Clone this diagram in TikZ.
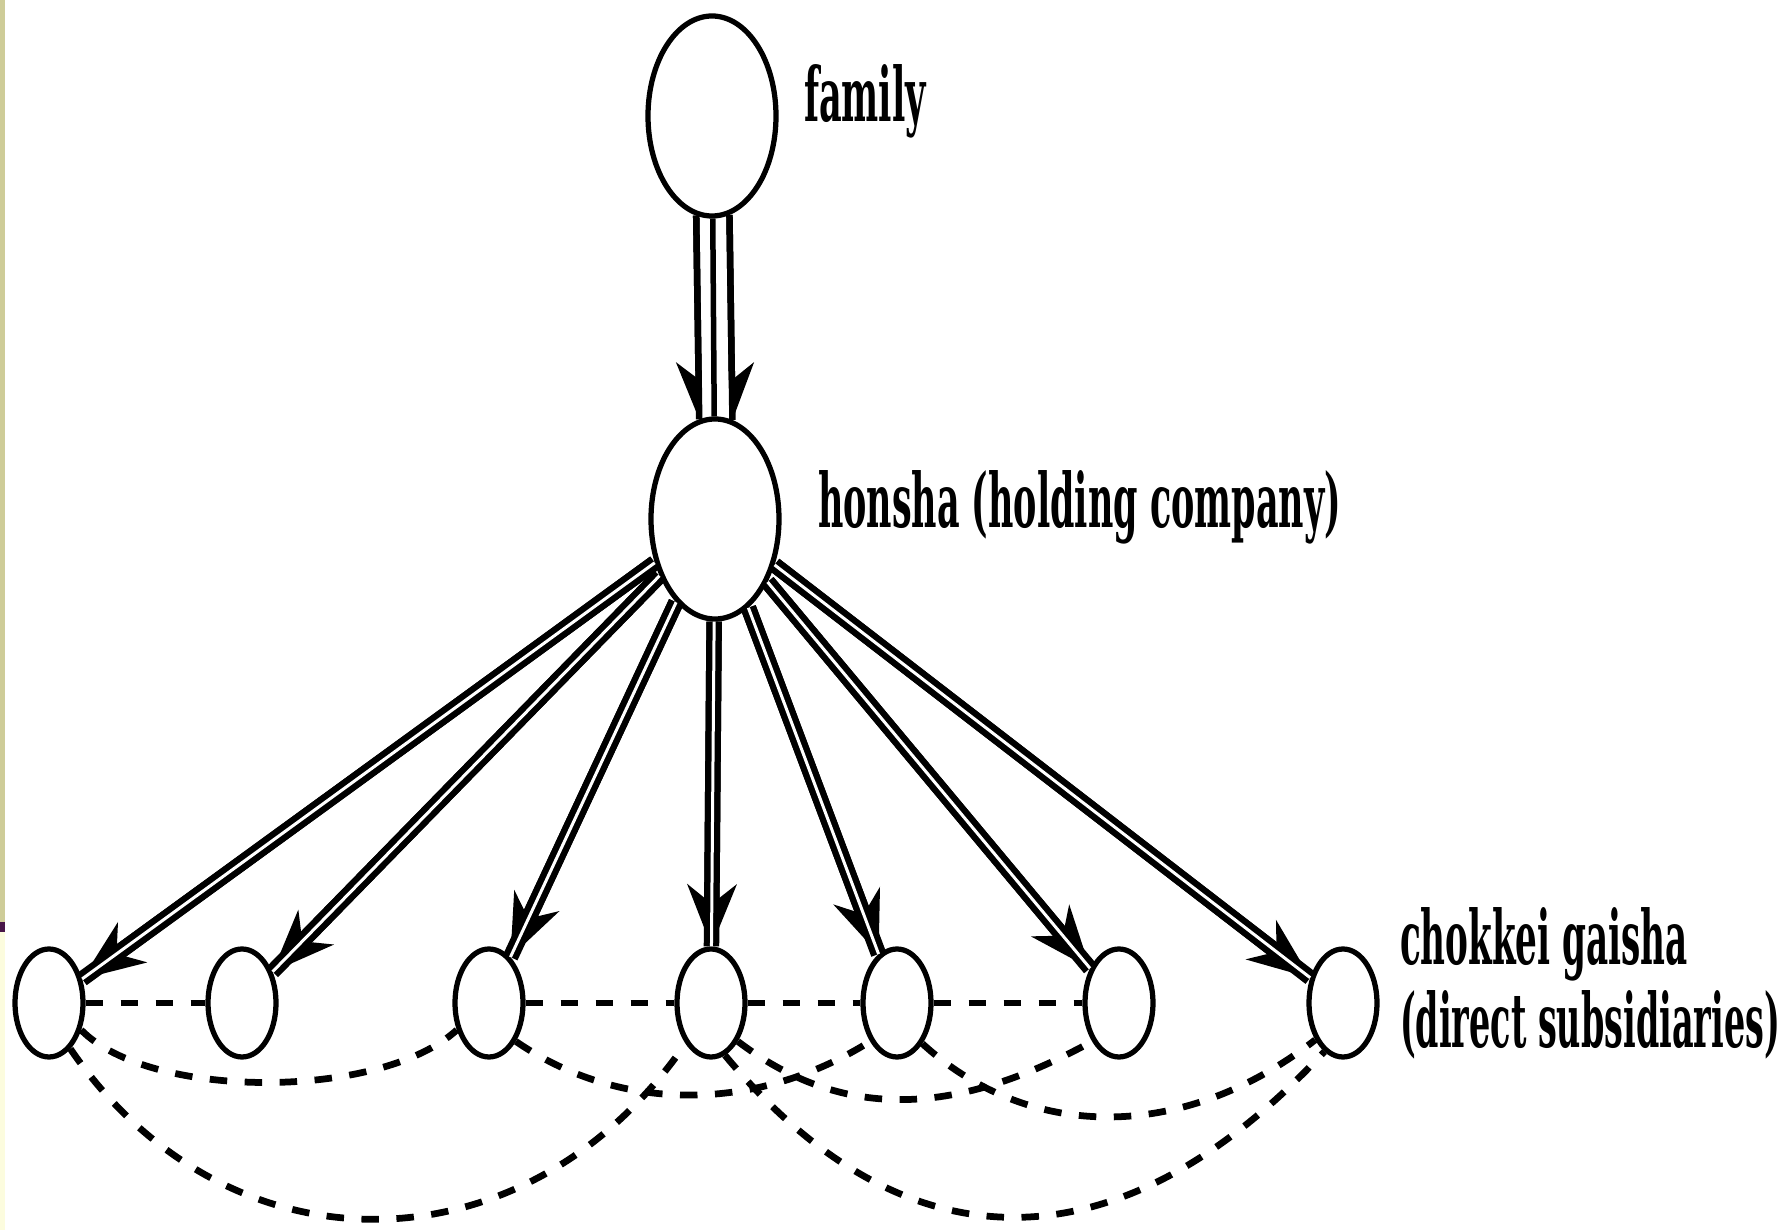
\documentclass[tikz,border=0pt]{standalone}
\usepackage{fontspec}
\setmainfont{DejaVu Serif}
\usepackage{graphicx}
\usetikzlibrary{shapes.geometric,arrows.meta}
\definecolor{stripol}{RGB}{206,204,152}
\definecolor{strippu}{RGB}{72,22,72}
\definecolor{stripcr}{RGB}{252,252,222}
\tikzset{
  bignode/.style={ellipse, draw, line width=2.1pt, minimum width=51.2pt, minimum height=80pt, inner sep=0pt},
  subnode/.style={ellipse, draw, line width=2.1pt, minimum width=27.2pt, minimum height=43.2pt, inner sep=0pt},
  lab/.style={inner sep=0pt, outer sep=0pt, anchor=base west, font=\bfseries\fontsize{30}{33}\selectfont},
  under/.style={line width=6.2pt, -{Stealth[length=25pt,width=20pt,inset=8pt,line width=0pt]}},
  dbl/.style={double, double distance=1.2pt, line width=2.5pt},
  trip/.style={line width=2.6pt},
  tripmid/.style={line width=2.2pt},
  rel/.style={dash pattern=on 7pt off 7pt, line width=2.7pt},
}
\begin{document}
\begin{tikzpicture}[x=0.4pt,y=-0.4pt]
\fill[white] (0,0) rectangle (1789,1230);
\useasboundingbox (0,0) rectangle (1789,1230);
\fill[stripol] (0,0) rectangle (5,922);
\fill[strippu] (0,922) rectangle (5,932);
\fill[stripcr] (0,932) rectangle (5,1230);

\node[bignode] (fam) at (712,116) {};
\node[bignode] (hon) at (715,519) {};
\node[subnode] (s1) at (49,1003) {};
\node[subnode] (s2) at (242,1003) {};
\node[subnode] (s3) at (489,1003) {};
\node[subnode] (s4) at (711,1003) {};
\node[subnode] (s5) at (897,1003) {};
\node[subnode] (s6) at (1119,1003) {};
\node[subnode] (s7) at (1343,1003) {};

\node[lab] (tfam) at (804,122) {\resizebox{48.8pt}{\height}{family}};
\node[lab] (thon) at (818,528) {\resizebox{209.2pt}{\height}{honsha (holding company)}};
\node[lab] (tch1) at (1400,965) {\resizebox{115.2pt}{\height}{chokkei gaisha}};
\node[lab] (tch2) at (1400,1048) {\resizebox{152pt}{\height}{(direct subsidiaries)}};

% triple arrow family -> honsha
\draw[trip] (fam.-99.6) -- (hon.99.6);
\draw[trip] (fam.-80.4) -- (hon.80.4);
\draw[tripmid] (fam) -- (hon);
\draw[trip, -{Stealth[harpoon,swap,length=23pt,width=18pt,inset=7pt,line width=0pt]}] (fam.-99.6) -- (hon.99.6);
\draw[trip, -{Stealth[harpoon,length=23pt,width=18pt,inset=7pt,line width=0pt]}] (fam.-80.4) -- (hon.80.4);

% double arrows honsha -> subsidiaries
\foreach \s in {s1,s2,s3,s4,s5,s6,s7} {
  \draw[under] (hon) -- (\s);
  \draw[dbl] (hon) -- (\s);
}

% dashed relations
\draw[rel] (s1.east) -- (s2.west);
\draw[rel] (s3.east) -- (s4.west);
\draw[rel] (s4.east) -- (s5.west);
\draw[rel] (s5.east) -- (s6.west);
\draw[rel] (s1.-40) .. controls (150,1100) and (380,1100) .. (s3.-140);
\draw[rel] (s1.-65) .. controls (226,1277) and (524,1277) .. (s4.-122);
\draw[rel] (s3.-55) .. controls (620,1113) and (756,1113) .. (s5.-125);
\draw[rel] (s4.-55) .. controls (840,1119) and (951,1119) .. (s6.-125);
\draw[rel] (s5.-58) .. controls (1030,1142) and (1184,1142) .. (s7.-127);
\draw[rel] (s4.-75) .. controls (905,1272) and (1119,1272) .. (s7.-111);
\end{tikzpicture}
\end{document}
